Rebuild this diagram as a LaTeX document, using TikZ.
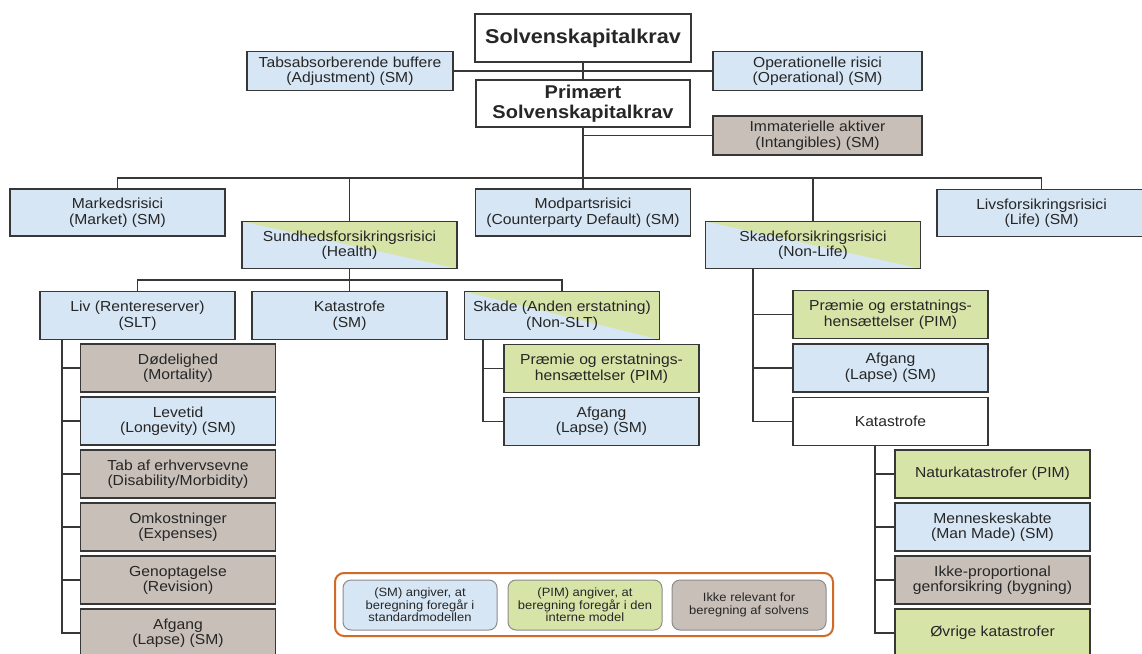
\documentclass[tikz,border=0pt]{standalone}
\usepackage{fontspec}
\setmainfont{Liberation Sans}[FakeStretch=1.08]
\definecolor{smblue}{RGB}{214,230,244}
\definecolor{pimgreen}{RGB}{215,228,168}
\definecolor{irrgray}{RGB}{200,191,184}
\definecolor{boxline}{RGB}{55,55,55}
\definecolor{legorange}{RGB}{207,106,41}
\tikzset{
  boks/.style={draw=boxline, line width=1.6pt, align=center, inner sep=2pt,
    font=\fontsize{14.5}{15.5}\selectfont, text=black!85},
  sm/.style={boks, fill=smblue},
  pim/.style={boks, fill=pimgreen},
  irr/.style={boks, fill=irrgray},
  delt/.style={boks, fill=smblue, path picture={
    \fill[pimgreen] (path picture bounding box.north west) -- (path picture bounding box.north east)
      -- (path picture bounding box.south east) -- cycle;}},
  lille/.style={minimum width=195pt, minimum height=48pt},
  stor/.style={minimum width=215pt, minimum height=47pt},
  legboks/.style={draw=black!45, line width=1pt, rounded corners=8pt, align=center,
    minimum width=154pt, minimum height=50pt, font=\fontsize{12}{12.5}\selectfont, text=black!85},
  forb/.style={draw=boxline, line width=1.5pt},
}
\begin{document}
\begin{tikzpicture}[x=1pt, y=-1pt]
    \useasboundingbox (0,0) rectangle (1142,653);

    % Toppen
    \node[boks, minimum width=216pt, minimum height=48pt, font=\bfseries\fontsize{20}{22}\selectfont] (scr) at (583,38) {Solvenskapitalkrav};
    \node[boks, minimum width=214pt, minimum height=47pt, font=\bfseries\fontsize{18.5}{20}\selectfont] (prim) at (583,103.5) {Primært\\Solvenskapitalkrav};
    \node[sm, minimum width=206pt, minimum height=39pt] (adj) at (350,71) {Tabsabsorberende buffere\\(Adjustment) (SM)};
    \node[sm, minimum width=209pt, minimum height=39pt] (oper) at (817.5,71) {Operationelle risici\\(Operational) (SM)};
    \node[irr, minimum width=209pt, minimum height=39pt] (intang) at (817.5,135.5) {Immaterielle aktiver\\(Intangibles) (SM)};

    % Risikomoduler
    \node[sm, stor] (market) at (117.5,212.5) {Markedsrisici\\(Market) (SM)};
    \node[sm, stor] (counter) at (583,212.5) {Modpartsrisici\\(Counterparty Default) (SM)};
    \node[sm, stor, minimum width=209pt] (life) at (1041.5,213) {Livsforsikringsrisici\\(Life) (SM)};
    \node[delt, stor] (health) at (349.5,245) {Sundhedsforsikringsrisici\\(Health)};
    \node[delt, stor] (nonlife) at (813,245) {Skadeforsikringsrisici\\(Non-Life)};

    % Sundhed
    \node[sm, lille] (slt) at (137.5,315.5) {Liv (Rentereserver)\\(SLT)};
    \node[sm, lille] (hcat) at (349.5,315.5) {Katastrofe\\(SM)};
    \node[delt, lille] (nslt) at (562,315.5) {Skade (Anden erstatning)\\(Non-SLT)};

    \node[irr, lille] (mort) at (178,368) {Dødelighed\\(Mortality)};
    \node[sm, lille] (long) at (178,421) {Levetid\\(Longevity) (SM)};
    \node[irr, lille] (dis) at (178,474) {Tab af erhvervsevne\\(Disability/Morbidity)};
    \node[irr, lille] (exp) at (178,527) {Omkostninger\\(Expenses)};
    \node[irr, lille] (rev) at (178,580) {Genoptagelse\\(Revision)};
    \node[irr, lille] (lapse) at (178,633) {Afgang\\(Lapse) (SM)};

    \node[pim, lille] (nsltprem) at (601.5,368.5) {Præmie og erstatnings-\\hensættelser (PIM)};
    \node[sm, lille] (nsltlapse) at (601.5,421.5) {Afgang\\(Lapse) (SM)};

    % Skade
    \node[pim, lille] (nlprem) at (890.5,314.5) {Præmie og erstatnings-\\hensættelser (PIM)};
    \node[sm, lille] (nllapse) at (890.5,368) {Afgang\\(Lapse) (SM)};
    \node[boks, fill=white, lille] (nlcat) at (890.5,421.5) {Katastrofe};

    \node[pim, lille] (nat) at (992.5,474) {Naturkatastrofer (PIM)};
    \node[sm, lille] (man) at (992.5,527) {Menneskeskabte\\(Man Made) (SM)};
    \node[irr, lille] (np) at (992.5,580) {Ikke-proportional\\genforsikring (bygning)};
    \node[pim, lille] (other) at (992.5,633) {Øvrige katastrofer};

    % Forbindelser
    \coordinate (busA) at (583,178);
    \coordinate (busB) at (349.5,280);
    \draw[forb] (scr) -- (prim);
    \draw[forb] (adj) -- (oper);
    \draw[forb] (prim) -- (busA);
    \draw[forb] (prim.south |- intang.west) -- (intang);
    \draw[forb] (market) |- (busA) -| (life);
    \draw[forb] (busA) -- (counter);
    \draw[forb] (health) -- (health |- busA);
    \draw[forb] (nonlife) -- (nonlife |- busA);
    \draw[forb] (health) -- (busB);
    \draw[forb] (slt) |- (busB) -| (nslt);
    \draw[forb] (busB) -- (hcat);

    \coordinate (sltT) at (62,0);
    \coordinate (nsltT) at (483,0);
    \coordinate (nlT) at (753,0);
    \coordinate (catT) at (875,0);
    \foreach \n in {mort,long,dis,exp,rev,lapse} \draw[forb] (slt.south -| sltT) |- (\n);
    \foreach \n in {nsltprem,nsltlapse} \draw[forb] (nslt.south -| nsltT) |- (\n);
    \foreach \n in {nlprem,nllapse,nlcat} \draw[forb] (nonlife.south -| nlT) |- (\n);
    \foreach \n in {nat,man,np,other} \draw[forb] (nlcat.south -| catT) |- (\n);

    % Forklaring
    \node[draw=legorange, line width=2pt, rounded corners=9pt, minimum width=498pt, minimum height=63pt] (legend) at (584,604.5) {};
    \node[legboks, fill=smblue] (legsm) at (420,605) {(SM) angiver, at\\beregning foregår i\\standardmodellen};
    \node[legboks, fill=pimgreen] (legpim) at (585,605) {(PIM) angiver, at\\beregning foregår i den\\interne model};
    \node[legboks, fill=irrgray] (legirr) at (749,605) {Ikke relevant for\\beregning af solvens};
\end{tikzpicture}
\end{document}
